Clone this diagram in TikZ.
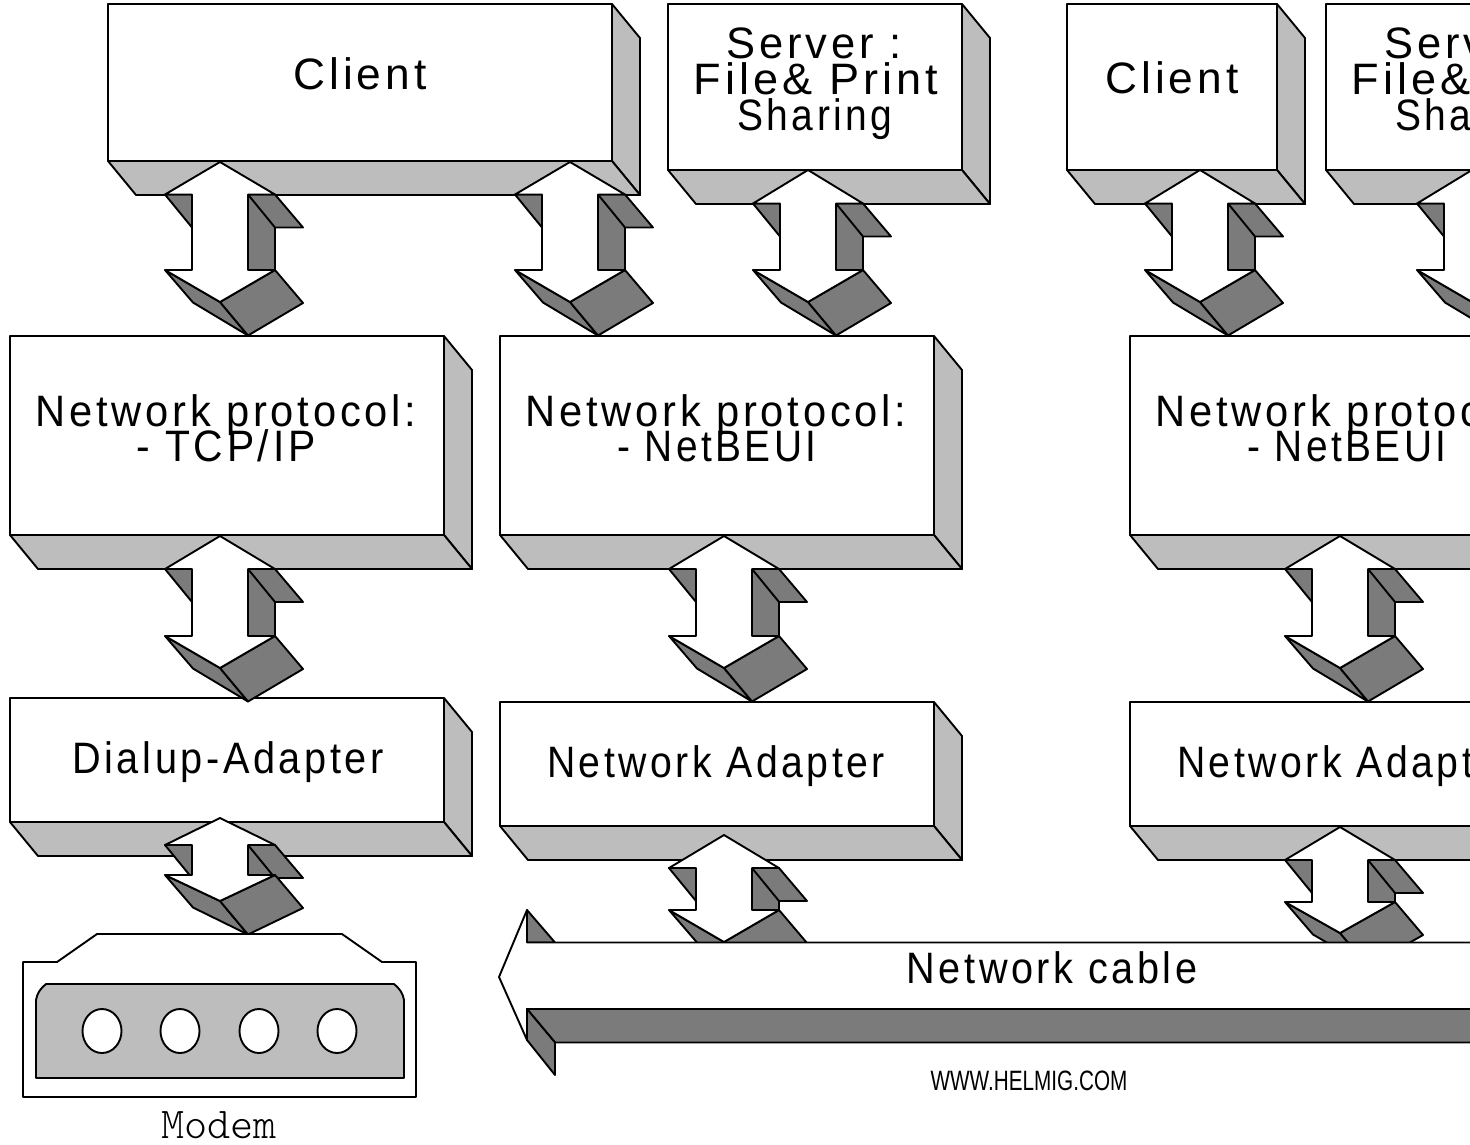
\documentclass[tikz,border=0pt]{standalone}
\usepackage{fontspec}
\setmainfont{Liberation Sans}
\newfontfamily\labelfont[LetterSpace=9]{Liberation Sans}
\setmonofont{Latin Modern Mono Light}
\definecolor{lightface}{HTML}{BDBDBD}
\definecolor{darkface}{HTML}{7B7B7B}
\tikzset{
  outline/.style={draw=black,line width=1.9pt,line join=round},
  frontface/.style={outline,fill=white},
  sideface/.style={outline,fill=lightface},
  shadeface/.style={outline,fill=darkface},
  label/.style={font=\labelfont\fontsize{44}{36}\selectfont,inner sep=0pt,anchor=base,text=black},
}
% front rectangle with 3D right and bottom faces
\newcommand{\blockbox}[4]{%
  \filldraw[sideface] (#3,#2) -- ({#3+28},{#2+34}) -- ({#3+28},{#4+34}) -- (#3,#4) -- cycle;
  \filldraw[sideface] (#1,#4) -- ({#1+28},{#4+34}) -- ({#3+28},{#4+34}) -- (#3,#4) -- cycle;
  \filldraw[frontface] (#1,#2) rectangle (#3,#4);
}
% double arrow: centre x, top apex y, top head base y, bottom head base y, bottom apex y
\newcommand{\updown}[5]{%
  \filldraw[shadeface] ({#1-55},#3) -- ({#1-28},#3) -- ({#1-28},{#3+33}) -- cycle;
  \filldraw[shadeface] ({#1+28},#3) rectangle ({#1+55},#4);
  \filldraw[shadeface] ({#1+28},#3) -- ({#1+55},#3) -- ({#1+83},{#3+33}) -- ({#1+55},{#3+33}) -- cycle;
  \filldraw[shadeface] ({#1-55},#4) -- (#1,#5) -- ({#1+28},{#5+33.5}) -- ({#1-27},{#4+32.5}) -- cycle;
  \filldraw[shadeface] ({#1+55},#4) -- ({#1+83},{#4+33}) -- ({#1+28},{#5+33.5}) -- (#1,#5) -- cycle;
  \filldraw[frontface] (#1,#2) -- ({#1+55},#3) -- ({#1+28},#3) -- ({#1+28},#4) -- ({#1+55},#4)
     -- (#1,#5) -- ({#1-55},#4) -- ({#1-28},#4) -- ({#1-28},#3) -- ({#1-55},#3) -- cycle;
}
\begin{document}
\begin{tikzpicture}[x=1pt,y=-1pt]
\useasboundingbox (0,0) rectangle (1470,1144);
\fill[white] (0,0) rectangle (1470,1144);
\clip (0,0) rectangle (1470,1144);

% boxes
\blockbox{108}{4}{612}{161}
\blockbox{668}{4}{962}{170}
\blockbox{1067}{4}{1277}{170}
\blockbox{1326}{4}{1620}{170}
\blockbox{10}{336}{444}{535}
\blockbox{500}{336}{934}{535}
\blockbox{1130}{336}{1564}{535}
\blockbox{10}{698}{444}{822}
\blockbox{500}{702}{934}{826}
\blockbox{1130}{702}{1564}{826}

% arrows between layers
\updown{220}{162}{194.5}{270}{302}
\updown{570}{162}{194.5}{270}{302}
\updown{808}{170}{203.5}{270}{302}
\updown{1200}{170}{203.5}{270}{302}
\updown{1472}{170}{203.5}{270}{302}
\updown{220}{536}{569}{636}{668}
\updown{724}{536}{569}{636}{668}
\updown{1340}{536}{569}{636}{668}
\updown{220}{818}{845}{875}{901}
\updown{724}{835}{868}{910}{942}
\updown{1340}{827}{860}{902}{933}

% modem
\filldraw[frontface] (23,962) -- (57,962) -- (97,934) -- (342,934) -- (382,962) -- (416,962) -- (416,1097) -- (23,1097) -- cycle;
\filldraw[sideface] (36,1078) -- (36,1000) .. controls (37,993) and (41,988) .. (46,984) -- (394,984) .. controls (399,988) and (403,993) .. (404,1000) -- (404,1078) -- cycle;
\foreach \hx in {102,180,259,337}
  \filldraw[outline,fill=white] (\hx,1031) ellipse [x radius=19.5,y radius=22];

% network cable
\filldraw[shadeface] (527,910) -- (555,942.5) -- (527,942.5) -- cycle;
\filldraw[frontface] (1500,942.5) -- (527,942.5) -- (527,910) -- (499,977) -- (527,1040) -- (527,1009) -- (1500,1009);
\filldraw[shadeface] (527,1009) -- (1500,1009) -- (1500,1042.5) -- (555,1042.5) -- cycle;
\filldraw[shadeface] (527,1009) -- (555,1042.5) -- (555,1075) -- (527,1040) -- cycle;

% labels
\node[label,xscale=1.006] (client1) at (360,89.5) {Client};
\node[label,xscale=.988] (server1a) at (814,58.5) {Server :};
\node[label,xscale=1.025] (server1b) at (816,94.5) {File\& Print};
\node[label,xscale=.886] (server1c) at (815,130) {Sharing};
\node[label,xscale=1.006] (client2) at (1172,93.5) {Client};
\node[label,xscale=.988] (server2a) at (1472,58.5) {Server :};
\node[label,xscale=1.025] (server2b) at (1474,94.5) {File\& Print};
\node[label,xscale=.886] (server2c) at (1473,130) {Sharing};
\node[label,xscale=.947] (proto1a) at (226,426.5) {Network protocol:};
\node[label,xscale=.928] (proto1b) at (226,461.5) {- TCP/IP};
\node[label,xscale=.947] (proto2a) at (716,426.5) {Network protocol:};
\node[label,xscale=.883] (proto2b) at (717,461.5) {- NetBEUI};
\node[label,xscale=.947] (proto3a) at (1346,426.5) {Network protocol:};
\node[label,xscale=.883] (proto3b) at (1347,461.5) {- NetBEUI};
\node[label,xscale=.902] (dialup) at (228,773.5) {Dialup-Adapter};
\node[label,xscale=.891] (adapter1) at (716,777.5) {Network Adapter};
\node[label,xscale=.891] (adapter2) at (1346,777.5) {Network Adapter};
\node[label,xscale=.901] (cable) at (1052,983.5) {Network cable};
\node[inner sep=0pt,font=\fontsize{28}{30}\selectfont,xscale=.74] (www) at (1029,1081) {WWW.HELMIG.COM};
\node[inner sep=0pt,font=\ttfamily\fontsize{44}{44}\selectfont] (modem) at (219,1125) {Modem};
\end{tikzpicture}
\end{document}
